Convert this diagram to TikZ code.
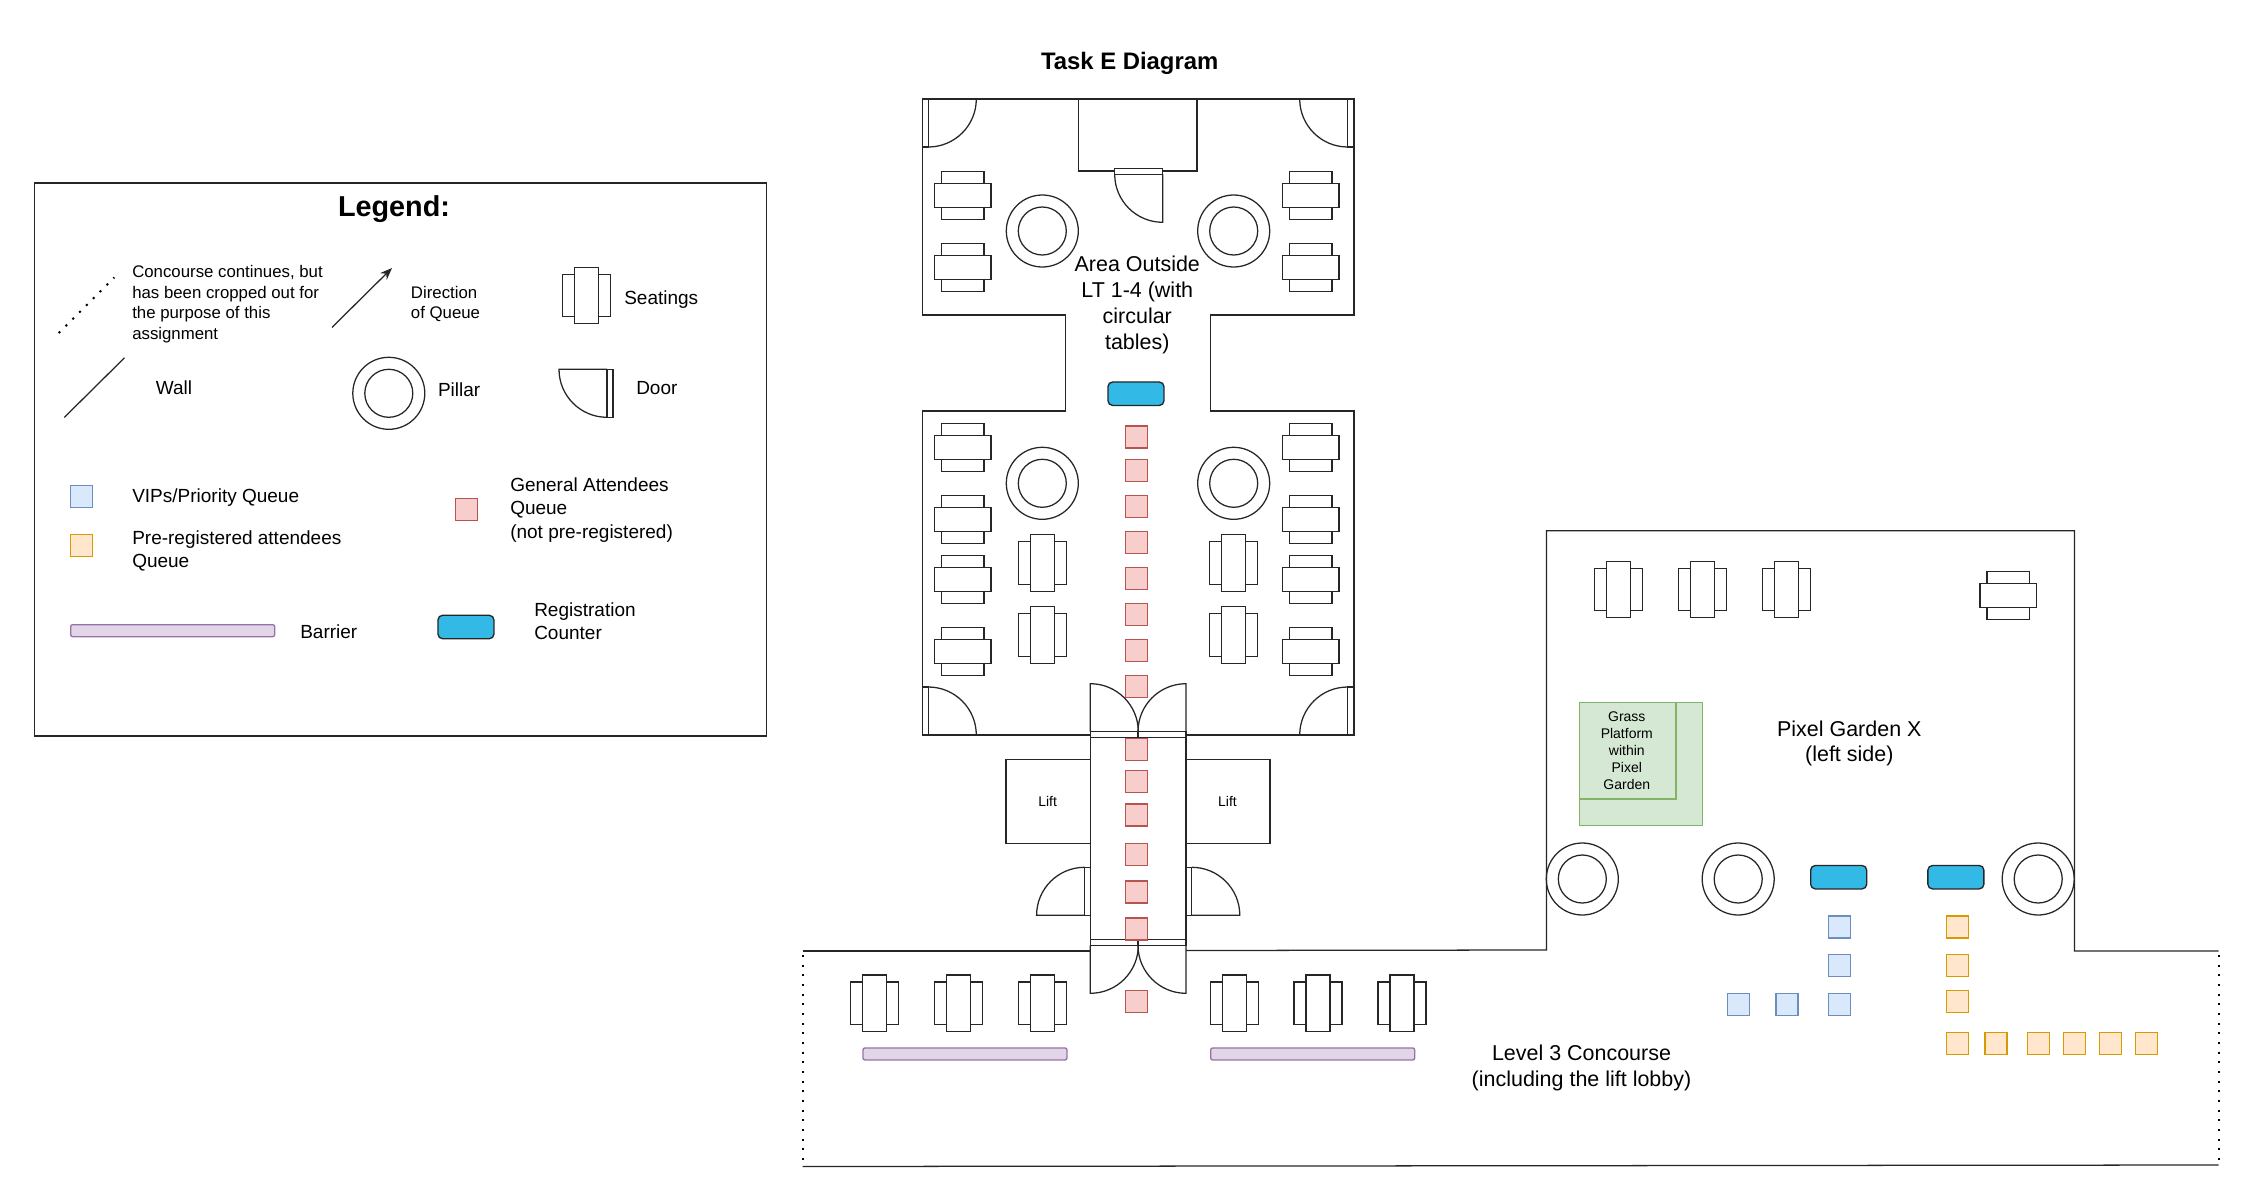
\documentclass[tikz,border=0pt]{standalone}
\usepackage{fontspec}
\setmainfont{Liberation Sans}
\usetikzlibrary{arrows.meta}
\newcommand\doorleaf[6]{%
  \begin{scope}[shift={(#1,#2)},x={(#3*0.75pt,#4*-0.75pt)},y={(#5*0.75pt,#6*-0.75pt)}]
    \draw[wall] (-6,0) rectangle (0,48);
    \draw[wall] (0,0) -- (48,0) .. controls (48,26.5) and (26.5,48) .. (0,48);
  \end{scope}}
\tikzset{
  wall/.style={draw=black!85,line width=0.95pt,line join=miter},
  dotwall/.style={draw=black,line width=1.5pt,dash pattern=on 1.6pt off 5.65pt},
  txt/.style={inner sep=0pt,text=black,align=left,anchor=west,font=\fontsize{14.25}{17.5}\selectfont},
  smalltxt/.style={txt,font=\fontsize{12.6}{15.4}\selectfont},
  midtxt/.style={inner sep=0pt,align=center,font=\fontsize{16.1}{19.3}\selectfont},
  tinytxt/.style={inner sep=0pt,align=center,font=\fontsize{10.5}{12.75}\selectfont},
  sq/.style={rectangle,inner sep=0pt,anchor=north west,minimum width=16.5pt,minimum height=16.5pt,line width=1pt},
  vipsq/.style={sq,draw=vipD,fill=vipF},
  presq/.style={sq,draw=preD,fill=preF},
  gensq/.style={sq,draw=genD,fill=genF},
  counter/.style={rectangle,rounded corners=3.5pt,inner sep=0pt,anchor=north west,minimum width=42pt,minimum height=17.6pt,draw=black!85,fill=ctrF,line width=1pt},
  barrier/.style={rectangle,rounded corners=1.5pt,inner sep=0pt,anchor=north west,minimum width=153pt,minimum height=9pt,draw=barD,fill=barF,line width=1pt},
  seatV/.pic={
    \draw[wall,fill=white] (-24,-21.2) rectangle (24,21.2);
    \draw[wall,fill=white] (-12,-28.3) rectangle (12,28.3);},
  seatH/.pic={
    \draw[wall,fill=white] (-21.2,-24) rectangle (21.2,24);
    \draw[wall,fill=white] (-28.3,-12) rectangle (28.3,12);},
  pillar/.pic={
    \draw[wall] (0,0) circle[radius=27pt];
    \draw[wall] (0,0) circle[radius=18pt];},
}
\definecolor{vipF}{HTML}{DAE8FC}\definecolor{vipD}{HTML}{6C8EBF}
\definecolor{preF}{HTML}{FFE6CC}\definecolor{preD}{HTML}{D79B00}
\definecolor{genF}{HTML}{F8CECC}\definecolor{genD}{HTML}{B85450}
\definecolor{greF}{HTML}{D5E8D4}\definecolor{greD}{HTML}{82B366}
\definecolor{barF}{HTML}{E1D5E7}\definecolor{barD}{HTML}{9673A6}
\definecolor{ctrF}{HTML}{33B9E6}
\begin{document}
\begin{tikzpicture}[x=0.75pt,y=-0.75pt]
\useasboundingbox (0,0) rectangle (2243,1185);
% ---------- Legend
\draw[wall] (34.2,183) rectangle (766.3,736);
\node[inner sep=0pt,font=\fontsize{21.6}{26}\selectfont\bfseries] (legendT) at (394,209.5) {Legend:};
\coordinate (dotA) at (58.7,333); \coordinate (dotB) at (114.3,277.4);
\draw[dotwall] (dotA) -- (dotB);
\node[smalltxt] (lgCrop) at (132,304) {Concourse continues, but\\has been cropped out for\\the purpose of this\\assignment};
\coordinate (arrA) at (332,327.4); \coordinate (arrB) at (392,268);
\draw[wall,-{Stealth[length=9pt,width=7pt]}] (arrA) -- (arrB);
\node[smalltxt] (lgDir) at (410.7,304) {Direction\\of Queue};
\pic at (586.5,295.5) {seatV};
\node[txt] (lgSeat) at (624,299.5) {Seatings};
\coordinate (wallA) at (64.3,417.4); \coordinate (wallB) at (124.5,357.8);
\draw[wall] (wallA) -- (wallB);
\node[txt] (lgWall) at (155.6,388) {Wall};
\pic at (388.8,393.3) {pillar};
\node[txt] (lgPillar) at (437.8,390) {Pillar};
\doorleaf{607}{369.3}{-1}{0}{0}{1}
\node[txt] (lgDoor) at (636,388) {Door};
\node[vipsq] (lgV) at (70,484.8) {};
\node[txt] (lgVt) at (132,497.5) {VIPs/Priority Queue};
\node[presq] (lgP) at (70,534) {};
\node[txt] (lgPt) at (132,551) {Pre-registered attendees\\Queue};
\node[gensq] (lgG) at (454.6,497.8) {};
\node[txt] (lgGt) at (510,510) {General Attendees\\Queue\\(not pre-registered)};
\node[barrier] (lgB) at (70,624) {};
\node[txt] (lgBt) at (300,632) {Barrier};
\node[counter] (lgC) at (437.3,614.6) {};
\node[txt] (lgCt) at (534,621.3) {Registration\\Counter};
% ---------- Title
\node[inner sep=0pt,font=\fontsize{17.9}{21}\selectfont\bfseries] (title) at (1129.7,63.1) {Task E Diagram};
% ---------- Area outside LT
\draw[wall] (1090.3,735) -- (922.3,735) -- (922.3,411) -- (1065.7,411) -- (1065.7,315) -- (922.3,315) -- (922.3,99)
  -- (1354,99) -- (1354,315) -- (1210.3,315) -- (1210.3,411) -- (1354,411) -- (1354,735) -- (1186,735);
\draw[wall] (1114.3,171) -- (1078.3,171) -- (1078.3,99);
\draw[wall] (1162.7,171) -- (1197,171) -- (1197,99);
\doorleaf{928.3}{99}{1}{0}{0}{1}
\doorleaf{1347.7}{99}{-1}{0}{0}{1}
\doorleaf{928.3}{735}{1}{0}{0}{-1}
\doorleaf{1347.7}{735}{-1}{0}{0}{-1}
\doorleaf{1162.7}{174.3}{0}{1}{-1}{0}
\foreach \yy in {195.3,267.3,447.3,519.3,579.3,651.3}{
  \pic at (962.7,\yy) {seatH};
  \pic at (1310.7,\yy) {seatH};}
\foreach \xx in {1042.3,1233.7}{
  \pic at (\xx,231) {pillar};
  \pic at (\xx,483.3) {pillar};
  \pic at (\xx,563) {seatV};
  \pic at (\xx,635) {seatV};}
\node[midtxt] (area) at (1137.3,305) {Area Outside\\LT 1-4 (with\\circular\\tables)};
\node[counter] (ctrA) at (1107.3,381.3) {};
% ---------- Lift corridor
\draw[wall] (1090.3,735) -- (1090.3,945);
\draw[wall] (1186,735) -- (1186,945);
\draw[wall] (1090.3,759.3) -- (1006,759.3) -- (1006,843.3) -- (1090.3,843.3);
\draw[wall] (1186,759.3) -- (1270,759.3) -- (1270,843.3) -- (1186,843.3);
\node[tinytxt] (liftL) at (1047.6,801) {Lift};
\node[tinytxt] (liftR) at (1227.5,801) {Lift};
\doorleaf{1090.3}{731.7}{0}{-1}{1}{0}
\doorleaf{1186}{731.7}{0}{-1}{-1}{0}
\doorleaf{1090.3}{945.3}{0}{1}{1}{0}
\doorleaf{1186}{945.3}{0}{1}{-1}{0}
\doorleaf{1084.6}{915.3}{-1}{0}{0}{-1}
\doorleaf{1191.8}{915.3}{1}{0}{0}{-1}
\foreach \yy [count=\ii] in {425.3,459,495,531,567,603,639,675,737.7,770,803.3,843,880.3,917.3,990}
  \node[gensq] (gen\ii) at (1125,\yy) {};
% ---------- Concourse and Pixel Garden
\draw[wall] (1090.3,951) -- (802.5,951);
\draw[wall] (802.5,1166.5) -- (2218.5,1165);
\draw[dotwall] (802.5,955) -- (802.5,1166);
\draw[dotwall] (2218.5,955) -- (2218.5,1165);
\draw[wall] (1186,950.5) -- (1546.4,950) -- (1546.4,530.7) -- (2074.4,530.7) -- (2074.4,951) -- (2218.5,951);
\foreach \xx in {874.4,958.3,1042.2,1234.2,1318.1,1402}
  \pic at (\xx,1003.3) {seatV};
\node[barrier] (barL) at (862.3,1047.3) {};
\node[barrier] (barR) at (1210,1047.3) {};
\foreach \xx in {1618.2,1702.3,1786.4}
  \pic at (\xx,589.5) {seatV};
\pic at (2008.2,595.5) {seatH};
\draw[draw=greD,fill=greF,line width=1pt] (1579.5,702.7) rectangle (1702.3,825.3);
\draw[draw=greD,fill=greF,line width=1pt] (1579.5,702.7) rectangle (1676,799);
\node[tinytxt] (grass) at (1626.8,750.3) {Grass\\Platform\\within\\Pixel\\Garden};
\node[midtxt] (garden) at (1849.3,743.5) {Pixel Garden X\\(left side)};
\node[midtxt] (level) at (1581.5,1068) {Level 3 Concourse\\(including the lift lobby)};
\foreach \xx in {1582.3,1738.2,2038.2}
  \pic at (\xx,879) {pillar};
\node[counter] (ctrB) at (1810,864.8) {};
\node[counter] (ctrC) at (1927.2,864.8) {};
\foreach \xx/\yy [count=\ii] in {1827.5/915.3,1827.5/953.7,1827.5/992.7,1775.4/992.7,1726.5/992.7}
  \node[vipsq] (vip\ii) at (\xx,\yy) {};
\foreach \xx/\yy [count=\ii] in {1945.5/915.3,1945.5/953.7,1945.5/989.7,1945.5/1031.7,1984.4/1031.7,2026.5/1031.7,2062.6/1031.7,2098.6/1031.7,2134.6/1031.7}
  \node[presq] (pre\ii) at (\xx,\yy) {};
\end{tikzpicture}
\end{document}
